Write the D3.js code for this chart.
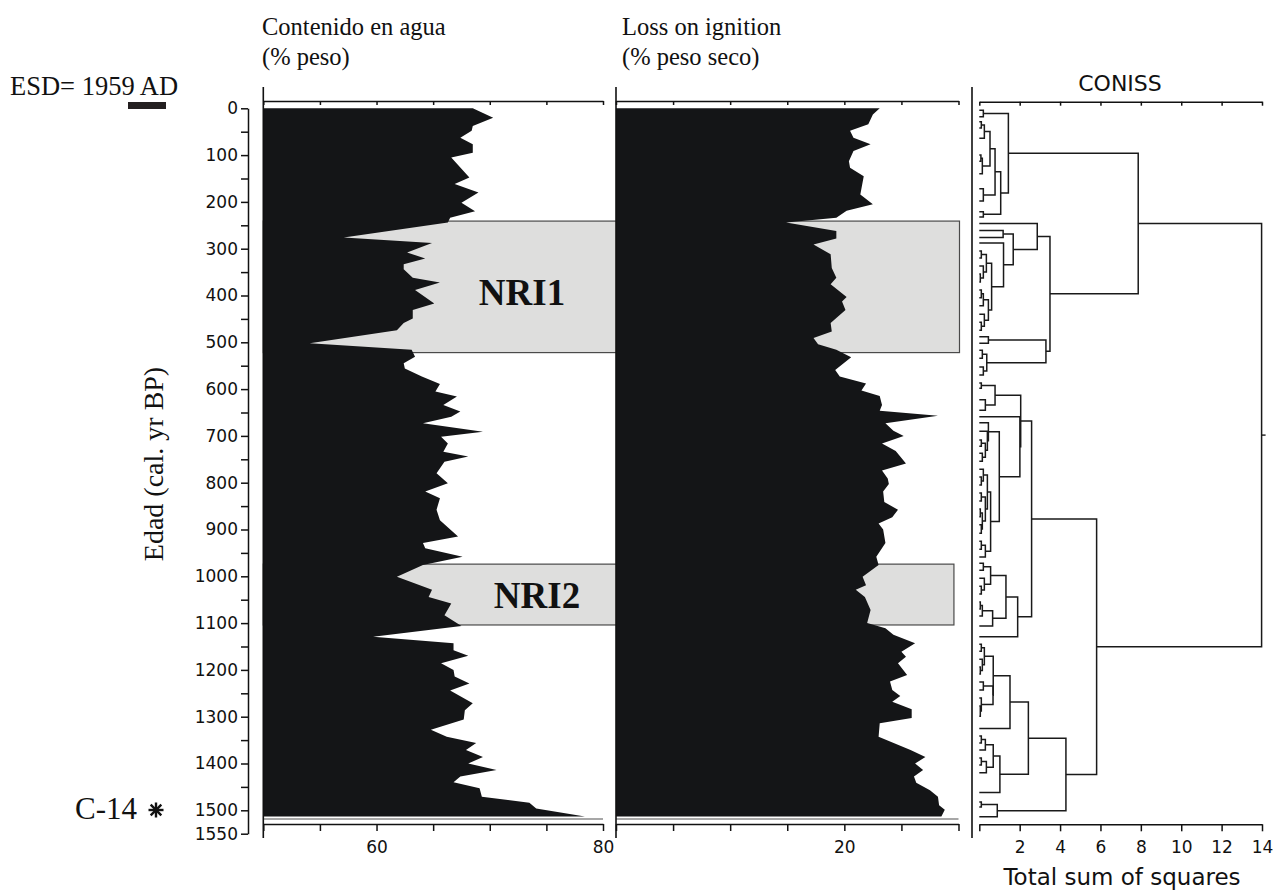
<!DOCTYPE html>
<html>
<head>
<meta charset="utf-8">
<script src="https://cdn.jsdelivr.net/npm/d3@7"></script>
<style>
  body { margin: 0; background: #fff; }
  .serif { font-family: "Liberation Serif", "Times New Roman", serif; fill: #111; }
  .sans { font-family: "DejaVu Sans", sans-serif; fill: #111; }
  .axis text { font-family: "DejaVu Sans", sans-serif; font-size: 17px; fill: #111; }
  .axis path, .axis line { stroke: #111; stroke-width: 1.5; }
</style>
</head>
<body>
<script>
// water content (% peso) by age (cal. yr BP)
const waterAge = [0, 20, 38, 48, 63, 77, 95, 105, 148, 162, 180, 202, 220, 234, 244, 276, 288, 308, 321, 333,
  344, 362, 372, 388, 417, 431, 449, 459, 474, 502, 516, 531, 545, 556, 573, 589, 605, 616, 634, 648,
  659, 673, 691, 702, 716, 734, 744, 755, 780, 801, 819, 833, 858, 880, 915, 929, 940, 958, 976, 1001,
  1029, 1044, 1058, 1083, 1106, 1129, 1143, 1158, 1170, 1186, 1200, 1214, 1229, 1244, 1271, 1286, 1306, 1328, 1343, 1356,
  1371, 1386, 1400, 1414, 1428, 1440, 1453, 1471, 1484, 1496, 1513];
const waterPct = [68.5, 70.3, 68.5, 68.4, 67.4, 68.5, 68.5, 66.6, 68.2, 66.9, 69.0, 67.5, 68.7, 66.5, 66.3, 57.1, 64.9, 62.7, 64.3, 62.4,
  62.4, 63.2, 65.6, 63.4, 65.1, 63.2, 63.2, 62.4, 61.8, 54.1, 63.1, 63.4, 62.4, 62.5, 64.0, 65.6, 65.2, 67.1, 65.9, 67.4,
  66.6, 64.1, 69.4, 65.7, 66.3, 65.9, 68.1, 66.0, 65.3, 66.3, 64.3, 65.6, 65.3, 65.6, 67.2, 64.1, 64.3, 67.6, 64.1, 61.8,
  64.9, 64.6, 66.6, 66.0, 67.5, 59.7, 66.8, 66.8, 68.1, 65.7, 66.8, 66.9, 68.2, 66.5, 68.5, 67.8, 67.7, 64.8, 66.2, 68.8,
  67.9, 69.4, 68.1, 70.6, 67.4, 66.8, 69.1, 69.3, 73.5, 74.1, 78.4];

// loss on ignition (% peso seco) by age
const loiAge = [0, 13, 34, 48, 63, 77, 91, 113, 127, 145, 184, 205, 219, 234, 244, 262, 278, 291, 312, 341,
  362, 376, 403, 413, 431, 459, 477, 491, 504, 516, 532, 559, 573, 588, 603, 615, 634, 646, 657, 673,
  689, 700, 716, 732, 759, 774, 791, 803, 819, 841, 858, 874, 887, 900, 929, 958, 976, 1001, 1019, 1029,
  1044, 1072, 1100, 1111, 1125, 1143, 1161, 1172, 1186, 1211, 1225, 1243, 1256, 1268, 1284, 1303, 1314, 1343, 1371, 1386,
  1400, 1414, 1428, 1441, 1457, 1471, 1489, 1499, 1513];
const loiPct = [23.1, 22.5, 22.1, 20.5, 20.8, 22.3, 20.8, 20.4, 20.5, 21.7, 21.4, 22.5, 20.2, 19.3, 14.9, 19.3, 19.3, 17.3, 18.8, 18.9,
  19.3, 18.8, 20.2, 19.8, 20.1, 18.8, 18.9, 17.3, 17.7, 19.3, 20.6, 19.2, 19.6, 21.9, 21.5, 23.1, 23.3, 23.1, 28.2, 23.6,
  24.3, 25.2, 23.3, 24.5, 25.4, 23.3, 23.8, 23.9, 23.4, 23.5, 24.7, 24.2, 23.0, 23.4, 23.6, 22.8, 23.0, 21.6, 21.9, 21.0,
  21.8, 22.3, 22.0, 23.6, 24.3, 26.2, 25.0, 25.4, 24.7, 25.5, 24.0, 24.2, 24.9, 24.2, 25.9, 25.9, 23.1, 23.0, 25.8, 27.1,
  26.2, 26.9, 26.1, 26.3, 27.5, 28.2, 28.3, 28.8, 28.5];

// NRI zones
const nriNames = ["NRI1", "NRI2"];
const nriStart = [241, 974];
const nriEnd = [522, 1104];

// axis ticks
const ageLabels = [0, 100, 200, 300, 400, 500, 600, 700, 800, 900, 1000, 1100, 1200, 1300, 1400, 1500, 1550];
const ageMinor = [50, 150, 250, 350, 450, 550, 650, 750, 850, 950, 1050, 1150, 1250, 1350, 1450];
const waterTicks = [50, 55, 60, 65, 70, 75, 80];
const waterLabels = [60, 80];
const loiTicks = [0, 5, 10, 15, 20, 25, 30];
const loiLabels = [20];
const conissTicks = [0, 2, 4, 6, 8, 10, 12, 14];
const conissLabels = [2, 4, 6, 8, 10, 12, 14];

// CONISS clusters: [total sum of squares, left, right], a leaf is the sample age
const clusterA = [1.44, [0.2, 4, 18],
  [1.06, [0.78, [0.53, [0.25, [0.1, 29, 42], 64], [0.15, [0.08, 100, 113], 140]], [0.2, 172, 198]], [0.2, 221, 232]]];
const clusterB = [3.5,
  [2.87, 246, [1.68, [1.18, 261, 276],
    [1.2, 288, [0.61, [0.35, [0.1, 305, 320], [0.2, 337, [0.05, 354, 371]]],
      [0.45, [0.2, [0.1, 388, 405], 422], [0.25, 440, [0.1, 457, 474]]]]]]],
  [3.3, [0.45, 488, 502], [0.37, [0.15, 517, 534], [0.2, 553, 570]]]];
const clusterC = [2.59,
  [2.05, [0.78, [0.1, 587, 598], [0.3, 623, 645]],
    [2.01, 659, [0.99, [0.45, 672, [0.4, 690, [0.3, [0.1, 709, 722], [0.15, 737, 754]]]],
      [0.56, [0.4, [0.2, 771, [0.1, 788, 805]], [0.3, [0.1, 822, 839], [0.15, [0.05, 856, 873], [0.1, 890, 908]]]],
        [0.3, [0.1, 925, 942], 959]]]]],
  [1.9, [1.32, [0.56, [0.2, 972, 987], [0.25, 1004, [0.1, 1021, 1038]]],
    [0.66, [0.15, [0.05, 1055, 1070], 1085], 1106]], 1129]];
const clusterD = [4.29,
  [2.43, [1.52, [0.69, [0.25, [0.1, 1145, 1160], [0.15, 1177, [0.05, 1194, 1209]]],
      [0.68, [0.2, 1226, 1243], [0.1, 1260, [0.05, 1277, 1299]]]], 1325],
    [1.02, [0.69, [0.3, [0.1, 1341, 1356], 1371], [0.35, [0.1, 1388, 1403], 1420]], 1462]],
  [0.89, [0.1, 1482, 1493], 1514]];
const coniss = [13.98, [7.87, clusterA, clusterB], [5.81, clusterC, clusterD]];

const svg = d3.select("body").append("svg").attr("width", 1275).attr("height", 894);

// shared age scale
const y = d3.scaleLinear().domain([0, 1550]).range([108.3, 833.7]);
const xWater = d3.scaleLinear().domain([50, 80]).range([263.3, 603]);
const xLoi = d3.scaleLinear().domain([0, 30]).range([616, 958.5]);
const xCon = d3.scaleLinear().domain([0, 14]).range([979.3, 1262]);

// grey NRI boxes under the profiles
svg.selectAll("rect.nri")
  .data(nriNames)
  .enter().append("rect")
    .attr("class", "nri")
    .attr("x", xWater(50))
    .attr("y", (d, i) => y(nriStart[i]))
    .attr("width", (d, i) => (i === 0 ? xLoi(30) + 1 : xLoi(29.6)) - xWater(50))
    .attr("height", (d, i) => y(nriEnd[i]) - y(nriStart[i]))
    .attr("fill", "#dededd")
    .attr("stroke", "#4a4a4a")
    .attr("stroke-width", 1.2);

// filled profiles
const water = waterAge.map((a, i) => ({ age: a, v: waterPct[i] }));
const loi = loiAge.map((a, i) => ({ age: a, v: loiPct[i] }));

svg.append("path")
  .datum(water)
  .attr("fill", "#141517")
  .attr("d", d3.area().y(d => y(d.age)).x0(xWater(50)).x1(d => xWater(d.v)));

svg.append("path")
  .datum(loi)
  .attr("fill", "#141517")
  .attr("d", d3.area().y(d => y(d.age)).x0(xLoi(0)).x1(d => xLoi(d.v)));

// thin grey base lines under the profiles
[[xWater(50), xWater(80)], [xLoi(0), xLoi(30)]].forEach(r => {
  svg.append("line")
    .attr("x1", r[0]).attr("x2", r[1])
    .attr("y1", 819).attr("y2", 819)
    .attr("stroke", "#8a8a8a").attr("stroke-width", 1.5);
});

// NRI labels
svg.selectAll("text.nri")
  .data(nriNames)
  .enter().append("text")
    .attr("class", "serif")
    .attr("x", (d, i) => i === 0 ? 522 : 537)
    .attr("y", (d, i) => i === 0 ? 305 : 608)
    .attr("text-anchor", "middle")
    .attr("font-size", 37)
    .attr("font-weight", "bold")
    .text(d => d);

// age axis
svg.append("g").attr("class", "axis")
  .attr("transform", "translate(248,0)")
  .call(d3.axisLeft(y).tickValues(ageLabels).tickSize(7).tickPadding(3).tickSizeOuter(0)
    .tickFormat(d3.format("d")));
svg.append("g").attr("class", "axis")
  .attr("transform", "translate(248,0)")
  .call(d3.axisLeft(y).tickValues(ageMinor).tickSize(7).tickFormat("").tickSizeOuter(0))
  .select(".domain").remove();

// panel frames: left lines, top and bottom axes
[263.3, 616, 972].forEach(x => {
  svg.append("line")
    .attr("x1", x).attr("x2", x).attr("y1", 87).attr("y2", 838)
    .attr("stroke", "#111").attr("stroke-width", 1.6);
});

function panelAxes(scale, ticks, labels, top, bottom) {
  svg.append("g").attr("class", "axis")
    .attr("transform", `translate(0,${top})`)
    .call(d3.axisBottom(scale).tickValues(ticks).tickSize(4).tickFormat("").tickSizeOuter(0));
  svg.append("g").attr("class", "axis")
    .attr("transform", `translate(0,${bottom})`)
    .call(d3.axisBottom(scale).tickValues(ticks).tickSize(7).tickPadding(10).tickSizeOuter(0)
      .tickFormat(d => labels.includes(d) ? d : ""));
}
panelAxes(xWater, waterTicks, waterLabels, 101, 824);
panelAxes(xLoi, loiTicks, loiLabels, 101, 824);
panelAxes(xCon, conissTicks, conissLabels, 101.7, 824.3);

// CONISS dendrogram
const tree = d3.hierarchy(coniss, d => Array.isArray(d) ? d.slice(1) : null);
tree.eachAfter(n => {
  n.h = Array.isArray(n.data) ? n.data[0] : 0;
  n.py = n.children ? d3.mean(n.children, c => c.py) : y(n.data);
});
svg.append("g").selectAll("path")
  .data(tree.descendants().filter(n => n.children))
  .enter().append("path")
    .attr("fill", "none")
    .attr("stroke", "#1a1a1a")
    .attr("stroke-width", 1.5)
    .attr("d", n => {
      const a = n.children[0], b = n.children[1];
      return `M${xCon(a.h)},${a.py}H${xCon(n.h)}V${b.py}H${xCon(b.h)}`;
    });
svg.append("line")
  .attr("x1", xCon(tree.h)).attr("x2", xCon(tree.h) + 4)
  .attr("y1", tree.py).attr("y2", tree.py)
  .attr("stroke", "#1a1a1a").attr("stroke-width", 1.4);

// titles
const titles = [
  ["Contenido en agua", 262, 35], ["(% peso)", 262, 65],
  ["Loss on ignition", 622, 35], ["(% peso seco)", 622, 65]
];
svg.selectAll("text.title")
  .data(titles)
  .enter().append("text")
    .attr("class", "serif")
    .attr("x", d => d[1]).attr("y", d => d[2])
    .attr("font-size", 24.5)
    .text(d => d[0]);

svg.append("text").attr("class", "serif")
  .attr("x", 10).attr("y", 95).attr("font-size", 26.5)
  .text("ESD= 1959 AD");
svg.append("rect").attr("x", 128).attr("y", 102).attr("width", 38).attr("height", 7).attr("fill", "#231f20");

svg.append("text").attr("class", "serif")
  .attr("transform", "translate(163,464) rotate(-90)")
  .attr("text-anchor", "middle").attr("font-size", 28)
  .text("Edad (cal. yr BP)");

svg.append("text").attr("class", "serif")
  .attr("x", 75).attr("y", 819).attr("font-size", 31)
  .text("C-14");
// radiocarbon star
[0, 45, 90, 135].forEach(a => {
  const r = 7.5, t = a * Math.PI / 180;
  svg.append("line")
    .attr("x1", 156 - r * Math.cos(t)).attr("y1", 810 - r * Math.sin(t))
    .attr("x2", 156 + r * Math.cos(t)).attr("y2", 810 + r * Math.sin(t))
    .attr("stroke", "#111").attr("stroke-width", 2.4);
});

svg.append("text").attr("class", "sans")
  .attr("x", 1120).attr("y", 91).attr("text-anchor", "middle").attr("font-size", 22)
  .text("CONISS");
svg.append("text").attr("class", "sans")
  .attr("x", 1122).attr("y", 885).attr("text-anchor", "middle").attr("font-size", 23)
  .text("Total sum of squares");
</script>
</body>
</html>
